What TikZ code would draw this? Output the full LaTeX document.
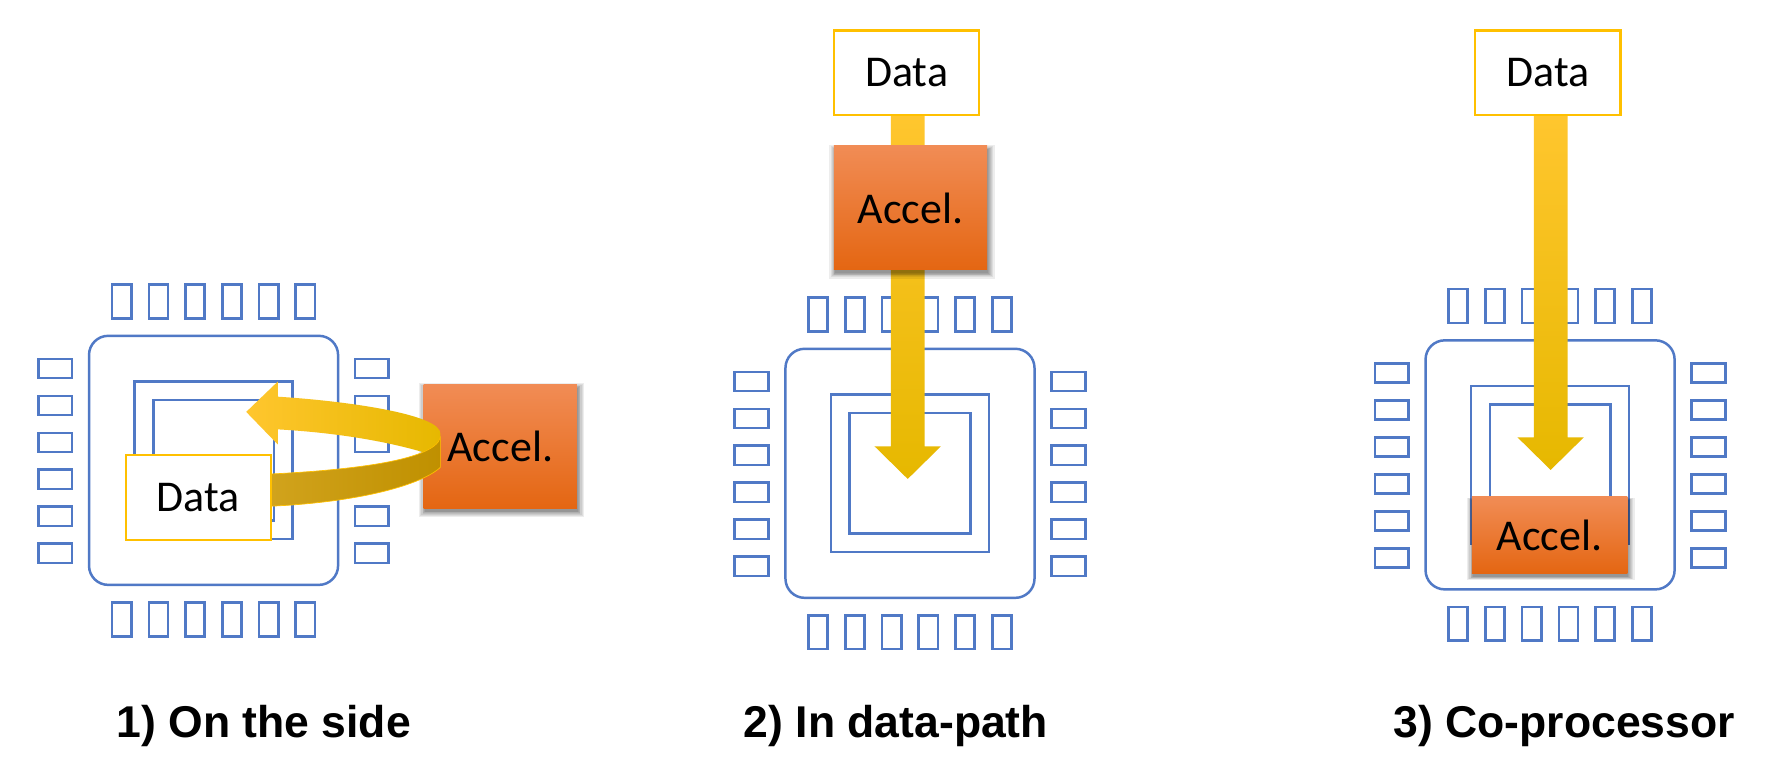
\documentclass[tikz,border=0pt]{standalone}
\usepackage{fontspec}
\setmainfont{Carlito}
\newfontfamily\captionfont{Liberation Sans}
\usetikzlibrary{calc,shadows}

\definecolor{chipblue}{HTML}{5079C6}
\definecolor{gold}{HTML}{FFC000}
\definecolor{goldtop}{HTML}{FFC62E}
\definecolor{goldlow}{HTML}{E6B800}
\definecolor{orangetop}{HTML}{F18C55}
\definecolor{orangemid}{HTML}{F47A24}
\definecolor{orangelow}{HTML}{E46612}

\tikzset{
  softshadow/.style={drop shadow={shadow xshift=1pt,shadow yshift=-3pt,shadow scale=#1,fill=black,opacity=.07}},
  chipbody/.style={draw=chipblue,line width=2.2pt,fill=white,minimum size=221pt,rounded corners=17pt,inner sep=0pt},
  chipcore/.style={draw=chipblue,line width=2.2pt,minimum size=#1,inner sep=0pt},
  pinv/.style={draw=chipblue,line width=2.4pt,minimum width=17pt,minimum height=30pt,inner sep=0pt},
  pinh/.style={draw=chipblue,line width=2.4pt,minimum width=30pt,minimum height=17pt,inner sep=0pt},
  databox/.style={draw=gold,line width=2pt,fill=white,minimum width=129pt,minimum height=75pt,font=\fontsize{39}{39}\selectfont,inner sep=0pt},
  accelbox/.style={top color=orangetop,middle color=orangemid,bottom color=orangelow,minimum width=136pt,minimum height=110pt,font=\fontsize{39}{39}\selectfont,inner sep=0pt,
    softshadow=1.08,softshadow=1.06,softshadow=1.045,softshadow=1.03,softshadow=1.02,softshadow=1.01,softshadow=1},
  bigarrow/.style={top color=goldtop,middle color=gold,bottom color=goldlow},
  titletext/.style={font=\captionfont\bfseries\fontsize{39.5}{39.5}\selectfont,inner sep=0pt}
}

\begin{document}
\begin{tikzpicture}[x=1pt,y=-1pt]
\useasboundingbox[fill=white] (0,0) rectangle (1568,686);

\foreach \n/\cx/\cy in {1/189.5/408.5,2/807.5/420,3/1375.5/412.5}{
  \begin{scope}[shift={(\cx,\cy)}]
    \node [chipbody] (chip\n) at (0,0) {};
    \node [chipcore=140pt] (coreout\n) at (0,0) {};
    \node [chipcore=107pt] (corein\n) at (0,0) {};
    \foreach \i in {0,...,5}{
      \node [pinv] (top\n\i) at ({-81.5+32.6*\i},-141) {};
      \node [pinv] (bot\n\i) at ({-81.5+32.6*\i},141) {};
      \node [pinh] (lef\n\i) at (-140.5,{-81.5+32.8*\i}) {};
      \node [pinh] (rig\n\i) at (140.5,{-81.5+32.8*\i}) {};
    }
  \end{scope}
}

\node [accelbox] (accel1) at (444,396) {Accel.};
\coordinate (tip1) at (218.5,365.5);
\coordinate (foldtop) at (390.8,385);
\coordinate (foldbot) at (390.8,414.7);
% upper part of the turn goes first, the lower part folds over it
\path [left color=goldtop,middle color=gold,right color=goldlow]
  (tip1) -- (246.5,338.6) -- (246.5,352)
  .. controls (310,356) and (392,368) .. (foldtop) -- (390.8,392) -- (378,402)
  .. controls (345,392) and (300,384) .. (246.5,381)
  -- (246.5,394.4) -- cycle;
\path [left color=goldlow!55!black!35!goldtop,right color=gold!75!black,draw=gold,line width=.6pt]
  (232,421) .. controls (300,418) and (386,410) .. (390.8,388)
  -- (foldbot) .. controls (372,432) and (310,447) .. (232,449.5) -- cycle;
\node [databox] (data1) at (176,441.5) {Data};

\foreach \n/\tx/\ty/\dx in {2/805.5/425/804.5,3/1376/417/1373.5}{
  \coordinate (tip\n) at (\tx,\ty);
  \node [databox] (data\n) at (\dx,64.5) {};
  \path [bigarrow]
    ($(data\n.south -| tip\n)+(-15,0)$) -- ($(data\n.south -| tip\n)+(15,0)$)
    -- ($(tip\n)+(15,-29)$) -- ($(tip\n)+(29.5,-29)$) -- (tip\n)
    -- ($(tip\n)+(-29.5,-29)$) -- ($(tip\n)+(-15,-29)$) -- cycle;
  \node [databox] (data\n) at (\dx,64.5) {Data};
}
\node [accelbox] (accel2) at (808,184.5) {Accel.};
\node [accelbox,minimum width=138pt,minimum height=68pt] (accel3) at (1375,475) {Accel.};

\node [titletext] (title1) at (234,644) {1) On the side};
\node [titletext] (title2) at (795,644) {2) In data-path};
\node [titletext] (title3) at (1388,644) {3) Co-processor};
\end{tikzpicture}
\end{document}
